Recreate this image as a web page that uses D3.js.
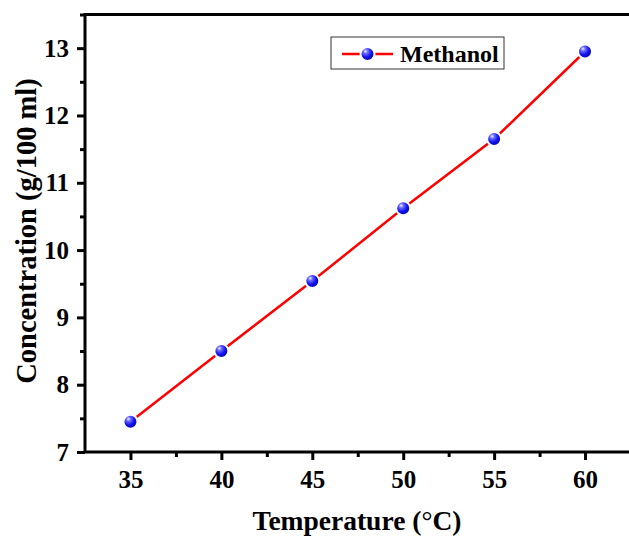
<!DOCTYPE html>
<html><head><meta charset="utf-8">
<script src="https://cdn.jsdelivr.net/npm/d3@7"></script>
<style>body{margin:0;background:#fff}svg{display:block}</style>
</head><body>
<svg id="c" width="629" height="538"></svg>
<script>
const temperatures = [35, 40, 45, 50, 55, 60];
const methanol = [7.45, 8.50, 9.54, 10.62, 11.65, 12.95];
const xTicks = [35, 40, 45, 50, 55, 60];
const yTicks = [7, 8, 9, 10, 11, 12, 13];
const seriesName = "Methanol";

const svg = d3.select("#c");
const L = 85, T = 14.5, R = 630.5, B = 452;
const x = d3.scaleLinear().domain([32.5, 62.5]).range([L, R]);
const y = d3.scaleLinear().domain([7, 13.5]).range([B, T]);
const font = "'Liberation Serif','Times New Roman',serif";

const defs = svg.append("defs");
const g = defs.append("radialGradient").attr("id","ball").attr("cx","40%").attr("cy","35%").attr("r","65%").attr("fx","35%").attr("fy","30%");
g.append("stop").attr("offset","0%").attr("stop-color","#f0f0ff");
g.append("stop").attr("offset","25%").attr("stop-color","#6b6bff");
g.append("stop").attr("offset","60%").attr("stop-color","#1515ee");
g.append("stop").attr("offset","100%").attr("stop-color","#0000b0");

// frame
svg.append("rect").attr("x",L).attr("y",T).attr("width",R-L).attr("height",B-T)
  .attr("fill","none").attr("stroke","#000").attr("stroke-width",3);

// x axis
const xa = svg.append("g").attr("transform",`translate(0,${B})`)
  .call(d3.axisBottom(x).tickValues(xTicks).tickSize(8).tickSizeOuter(0).tickPadding(10).tickFormat(d3.format("d")));
xa.select(".domain").remove();
const xMinor = svg.append("g").attr("transform",`translate(0,${B})`)
  .call(d3.axisBottom(x).tickValues([37.5,42.5,47.5,52.5,57.5]).tickSize(5).tickFormat(""));
xMinor.select(".domain").remove();

const ya = svg.append("g").attr("transform",`translate(${L},0)`)
  .call(d3.axisLeft(y).tickValues(yTicks).tickSize(8).tickSizeOuter(0).tickPadding(8).tickFormat(d3.format("d")));
ya.select(".domain").remove();
const yMinor = svg.append("g").attr("transform",`translate(${L},0)`)
  .call(d3.axisLeft(y).tickValues([7.5,8.5,9.5,10.5,11.5,12.5,13.5]).tickSize(5).tickFormat(""));
yMinor.select(".domain").remove();

svg.selectAll(".tick line").attr("stroke","#000").attr("stroke-width",3);
svg.selectAll(".tick text").attr("font-family",font).attr("font-weight","bold").attr("font-size",25).attr("fill","#000");

// line
svg.append("path").datum(temperatures.map((t,i)=>[t,methanol[i]]))
  .attr("d", d3.line().x(d=>x(d[0])).y(d=>y(d[1])))
  .attr("fill","none").attr("stroke","#ff0000").attr("stroke-width",2.5);

svg.selectAll("circle.pt").data(temperatures.map((t,i)=>[t,methanol[i]])).enter()
  .append("circle").attr("class","pt")
  .attr("cx",d=>x(d[0])).attr("cy",d=>y(d[1])).attr("r",7)
  .attr("fill","url(#ball)").attr("stroke","#fff").attr("stroke-width",2);

// legend
svg.append("rect").attr("x",331).attr("y",37).attr("width",173).attr("height",32)
  .attr("fill","#fff").attr("stroke","#333").attr("stroke-width",1);
svg.append("line").attr("x1",342).attr("x2",393).attr("y1",54).attr("y2",54)
  .attr("stroke","#ff0000").attr("stroke-width",2.5);
svg.append("circle").attr("cx",367.5).attr("cy",54).attr("r",7)
  .attr("fill","url(#ball)").attr("stroke","#fff").attr("stroke-width",2);
svg.append("text").attr("x",400).attr("y",62).text(seriesName)
  .attr("font-family",font).attr("font-weight","bold").attr("font-size",24).attr("fill","#000");

// axis titles
const xt = svg.append("text").attr("x",357).attr("y",530).attr("text-anchor","middle")
  .attr("font-family",font).attr("font-weight","bold").attr("font-size",27.5).attr("fill","#000");
xt.append("tspan").text("Temperature (");
xt.append("tspan").attr("font-weight","normal").text("°");
xt.append("tspan").text("C)");

svg.append("text").attr("transform","translate(36,231) rotate(-90)").attr("text-anchor","middle")
  .attr("font-family",font).attr("font-weight","bold").attr("font-size",28.5).attr("fill","#000")
  .text("Concentration (g/100 ml)");
</script>
</body></html>
